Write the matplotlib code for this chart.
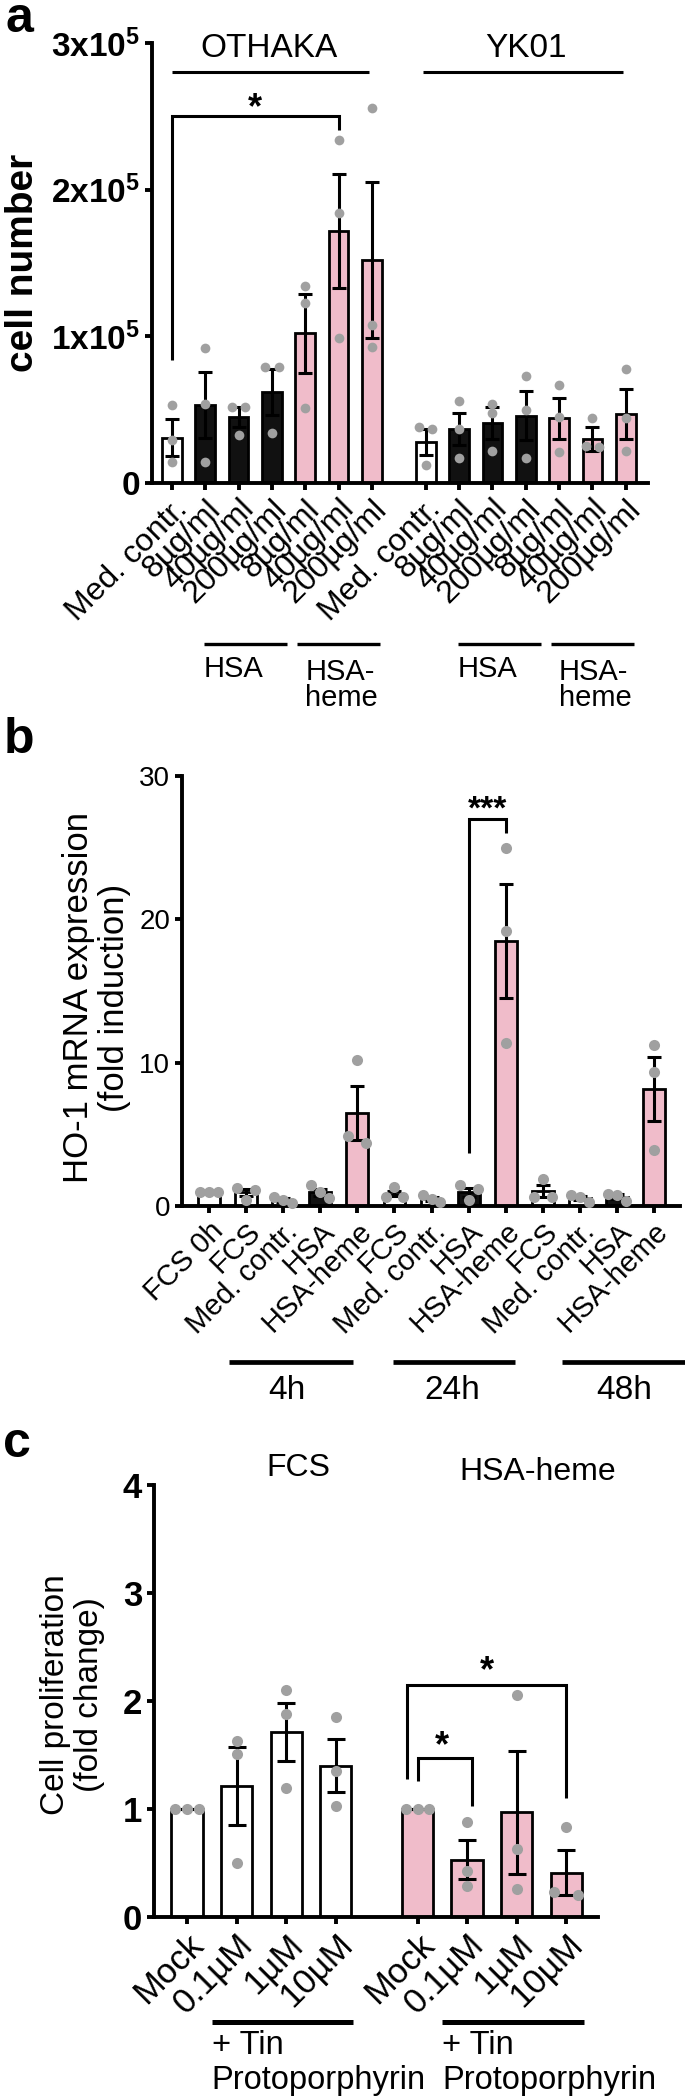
import numpy as np
import matplotlib
matplotlib.use("Agg")
import matplotlib.pyplot as plt

plt.rcParams["font.family"] = ["Liberation Sans", "DejaVu Sans"]
plt.rcParams["mathtext.fontset"] = "custom"
plt.rcParams["mathtext.rm"] = "Liberation Sans"
plt.rcParams["mathtext.bf"] = "Liberation Sans:bold"

PINK = "#F0BCCA"
GREY = "#A0A0A0"
BLACK = "#111111"

# ---- panel a: cell number (units of 1e5) ----
a_labels = ["Med. contr.", "8µg/ml", "40µg/ml", "200µg/ml", "8µg/ml", "40µg/ml", "200µg/ml"]
a_colors = ["white", BLACK, BLACK, BLACK, PINK, PINK, PINK]
othaka_mean = [0.31, 0.53, 0.45, 0.62, 1.02, 1.72, 1.52]
othaka_sem = [0.125, 0.225, 0.07, 0.155, 0.27, 0.39, 0.53]
othaka_pts = [[0.53, 0.29, 0.14], [0.92, 0.54, 0.14], [0.52, 0.52, 0.33], [0.79, 0.79, 0.34],
              [1.34, 1.23, 0.51], [2.34, 1.84, 0.99], [2.56, 1.08, 0.93]]
yk01_mean = [0.28, 0.37, 0.41, 0.46, 0.44, 0.30, 0.47]
yk01_sem = [0.09, 0.11, 0.11, 0.17, 0.14, 0.08, 0.17]
yk01_pts = [[0.38, 0.37, 0.12], [0.56, 0.37, 0.17], [0.54, 0.48, 0.22], [0.73, 0.50, 0.17],
            [0.67, 0.45, 0.21], [0.44, 0.25, 0.245], [0.775, 0.44, 0.22]]
a_yticks = [0, 1, 2, 3]
a_yticklabels = ["0", r"$\mathbf{1x10^{5}}$", r"$\mathbf{2x10^{5}}$", r"$\mathbf{3x10^{5}}$"]

# ---- panel b: HO-1 mRNA fold induction ----
b_labels = ["FCS 0h", "FCS", "Med. contr.", "HSA", "HSA-heme", "FCS", "Med. contr.", "HSA", "HSA-heme",
            "FCS", "Med. contr.", "HSA", "HSA-heme"]
b_colors = ["white", "white", "white", BLACK, PINK, "white", "white", BLACK, PINK,
            "white", "white", BLACK, PINK]
b_mean = [1.0, 0.95, 0.42, 0.95, 6.5, 0.87, 0.5, 0.95, 18.5, 1.04, 0.55, 0.66, 8.15]
b_sem = [0.0, 0.25, 0.12, 0.25, 1.9, 0.2, 0.15, 0.3, 4.0, 0.4, 0.15, 0.15, 2.25]
b_pts = [[1.0, 1.0, 1.0], [1.27, 1.1, 0.44], [0.2, 0.62, 0.44], [1.44, 0.97, 0.58], [10.2, 4.4, 4.9],
         [0.66, 1.3, 0.66], [0.28, 0.79, 0.51], [1.44, 1.16, 0.4], [25.0, 19.2, 11.4],
         [1.85, 0.63, 0.63], [0.28, 0.75, 0.63], [0.33, 0.86, 0.79], [11.2, 9.35, 3.9]]
b_groups = ["4h", "24h", "48h"]

# ---- panel c: cell proliferation fold change ----
c_labels = ["Mock", "0.1µM", "1µM", "10µM"]
fcs_mean = [1.0, 1.21, 1.716, 1.40]
fcs_sem = [0.0, 0.36, 0.27, 0.245]
fcs_pts = [[1.0, 1.0, 1.0], [1.63, 1.51, 0.50], [2.10, 1.88, 1.19], [1.85, 1.35, 1.03]]
heme_mean = [1.0, 0.53, 0.97, 0.41]
heme_sem = [0.0, 0.18, 0.57, 0.21]
heme_pts = [[1.0, 1.0, 1.0], [0.88, 0.43, 0.29], [2.06, 0.63, 0.26], [0.83, 0.20, 0.23]]


def swarm(vals, thresh):
    vals = np.asarray(vals, dtype=float)
    order = np.argsort(-vals)
    offs = np.zeros(len(vals))
    clusters = []
    for i in order:
        if clusters and abs(vals[clusters[-1][-1]] - vals[i]) < thresh:
            clusters[-1].append(i)
        else:
            clusters.append([i])
    for c in clusters:
        if len(c) > 1:
            offs[c] = np.linspace(-1, 1, len(c))
    return offs


def bars(ax, pos, mean, sem, pts, colors, width, capsize, dd, thresh, ms):
    ax.bar(pos, mean, width=width, color=colors, edgecolor="black", linewidth=2.0, zorder=2)
    ax.errorbar(pos, mean, yerr=sem, fmt="none", ecolor="black", elinewidth=2.2,
                capsize=capsize, capthick=2.2, zorder=3)
    for x, p in zip(pos, pts):
        off = swarm(p, thresh)
        ax.plot(x + off * dd, p, "o", color=GREY, ms=ms, mec="none", zorder=4, clip_on=False)


def style(ax, lw=2.8):
    for s in ["top", "right"]:
        ax.spines[s].set_visible(False)
    for s in ["left", "bottom"]:
        ax.spines[s].set_linewidth(lw)
    ax.tick_params(axis="both", direction="out", width=lw, length=5)


def hline(ax, x0, x1, y, lw):
    ax.plot([x0, x1], [y, y], color="black", lw=lw, clip_on=False, solid_capstyle="butt")


def bracket(ax, x0, x1, y0, ytop, y1, lw=2.2):
    ax.plot([x0, x0, x1, x1], [y0, ytop, ytop, y1], color="black", lw=lw, clip_on=False,
            solid_capstyle="butt", solid_joinstyle="miter")


W, H = 685, 2100
fig = plt.figure(figsize=(W / 100, H / 100), dpi=100)


def axes_px(l, r, top, bot):
    return fig.add_axes([l / W, 1 - bot / H, (r - l) / W, (bot - top) / H])


# ================= panel a =================
ax = axes_px(152, 648, 43, 483)
style(ax)
otk_pos = np.arange(7)
yk_pos = 7.62 + np.arange(7)
bars(ax, otk_pos, othaka_mean, othaka_sem, othaka_pts, a_colors, 0.59, 4.7, 0.2, 0.05, 7)
bars(ax, yk_pos, yk01_mean, yk01_sem, yk01_pts, a_colors, 0.59, 4.7, 0.2, 0.05, 7)
ax.set_xlim(-0.6, 14.29)
ax.set_ylim(0, 3)
ax.set_yticks(a_yticks)
ax.set_yticklabels(a_yticklabels, fontsize=24, fontweight="bold")
ax.set_xticks(np.concatenate([otk_pos, yk_pos]))
ax.set_xticklabels(a_labels + a_labels, fontsize=23, rotation=45, ha="right", va="top",
                   rotation_mode="anchor")
ax.tick_params(axis="x", pad=3)
ax.text(-0.26, 0.5, "cell number", transform=ax.transAxes, rotation=90, ha="center",
        va="center", fontsize=28, fontweight="bold")
ax.text(2.9, 2.96, "OTHAKA", ha="center", va="center", fontsize=24)
ax.text(yk_pos[3], 2.96, "YK01", ha="center", va="center", fontsize=24)
hline(ax, otk_pos[0], otk_pos[6] - 0.1, 2.80, 2.2)
hline(ax, yk_pos[0] - 0.08, yk_pos[6] - 0.08, 2.80, 2.2)
bracket(ax, otk_pos[0], otk_pos[5], 0.84, 2.50, 2.41)
ax.text(2.5, 2.55, "*", ha="center", va="center", fontsize=26, fontweight="bold")
for base in [otk_pos[0], yk_pos[0]]:
    hline(ax, base + 0.96, base + 3.45, -1.095, 2.4)
    hline(ax, base + 3.75, base + 6.25, -1.095, 2.4)
    ax.text(base + 0.96, -1.27, "HSA", ha="left", va="center", fontsize=21, clip_on=False)
    ax.text(base + 4.0, -1.19, "HSA-\nheme", ha="left", va="top", fontsize=21,
            linespacing=0.95, clip_on=False)

# ================= panel b =================
ax = axes_px(182, 680, 776, 1206)
style(ax)
b_pos = np.arange(13)
bars(ax, b_pos, b_mean, b_sem, b_pts, b_colors, 0.59, 5, 0.24, 0.56, 8)
ax.set_xlim(-0.73, 12.7)
ax.set_ylim(0, 30)
ax.set_yticks([0, 10, 20, 30])
ax.tick_params(axis="y", labelsize=20)
ax.set_xticks(b_pos)
ax.set_xticklabels(b_labels, fontsize=21, rotation=45, ha="right", va="top",
                   rotation_mode="anchor")
ax.tick_params(axis="x", pad=3)
ax.text(-0.172, 0.485, "HO-1 mRNA expression\n(fold induction)", transform=ax.transAxes,
        rotation=90, ha="center", va="center", fontsize=25, linespacing=1.12)
bracket(ax, b_pos[7], b_pos[8], 3.7, 27.0, 26.0)
ax.text(7.5, 27.6, "***", ha="center", va="center", fontsize=24, fontweight="bold")
group_spans = [(0.54, 3.88), (4.96, 8.25), (9.51, 12.83)]
group_text_x = [2.1, 6.55, 11.2]
for (x0, x1), tx, g in zip(group_spans, group_text_x, b_groups):
    hline(ax, x0, x1, -10.9, 3.4)
    ax.text(tx, -12.9, g, ha="center", va="center", fontsize=24, clip_on=False)

# ================= panel c =================
ax = axes_px(154, 598, 1485, 1917)
style(ax)
fcs_pos = np.arange(4)
heme_pos = 4.65 + np.arange(4)
bars(ax, fcs_pos, fcs_mean, fcs_sem, fcs_pts, ["white"] * 4, 0.63, 6.8, 0.24, 0.074, 8)
bars(ax, heme_pos, heme_mean, heme_sem, heme_pts, [PINK] * 4, 0.63, 6.8, 0.24, 0.074, 8)
ax.set_xlim(-0.665, 8.29)
ax.set_ylim(0, 4)
ax.set_yticks([0, 1, 2, 3, 4])
ax.set_yticklabels(["0", "1", "2", "3", "4"], fontsize=25, fontweight="bold")
ax.set_xticks(np.concatenate([fcs_pos, heme_pos]))
ax.set_xticklabels(c_labels + c_labels, fontsize=25, rotation=45, ha="right", va="top",
                   rotation_mode="anchor")
ax.tick_params(axis="x", pad=3)
ax.text(-0.184, 0.515, "Cell proliferation\n(fold change)", transform=ax.transAxes,
        rotation=90, ha="center", va="center", fontsize=24, linespacing=1.15)
ax.text(2.24, 4.16, "FCS", ha="center", va="center", fontsize=23, clip_on=False)
ax.text(7.08, 4.12, "HSA-heme", ha="center", va="center", fontsize=23, clip_on=False)
bracket(ax, heme_pos[0] - 0.22, heme_pos[3], 1.28, 2.15, 1.10)
ax.text((heme_pos[0] + heme_pos[3]) / 2 - 0.1, 2.27, "*", ha="center", va="center",
        fontsize=26, fontweight="bold")
bracket(ax, heme_pos[0], heme_pos[1] + 0.1, 1.26, 1.47, 1.03)
ax.text((heme_pos[0] + heme_pos[1]) / 2, 1.58, "*", ha="center", va="center",
        fontsize=26, fontweight="bold")
for base in [fcs_pos[0], heme_pos[0]]:
    hline(ax, base + 0.5, base + 3.35, -0.97, 3.6)
    ax.text(base + 0.5, -1.19, "+ Tin", ha="left", va="center", fontsize=23.5, clip_on=False)
    ax.text(base + 0.5, -1.51, "Protoporphyrin", ha="left", va="center", fontsize=23.5,
            clip_on=False)

# panel letters
fig.text(0.008, 1 - 32 / H, "a", fontsize=36, fontweight="bold", va="baseline")
fig.text(0.006, 1 - 753 / H, "b", fontsize=36, fontweight="bold", va="baseline")
fig.text(0.004, 1 - 1457 / H, "c", fontsize=36, fontweight="bold", va="baseline")

fig.savefig("out.png", dpi=100)
